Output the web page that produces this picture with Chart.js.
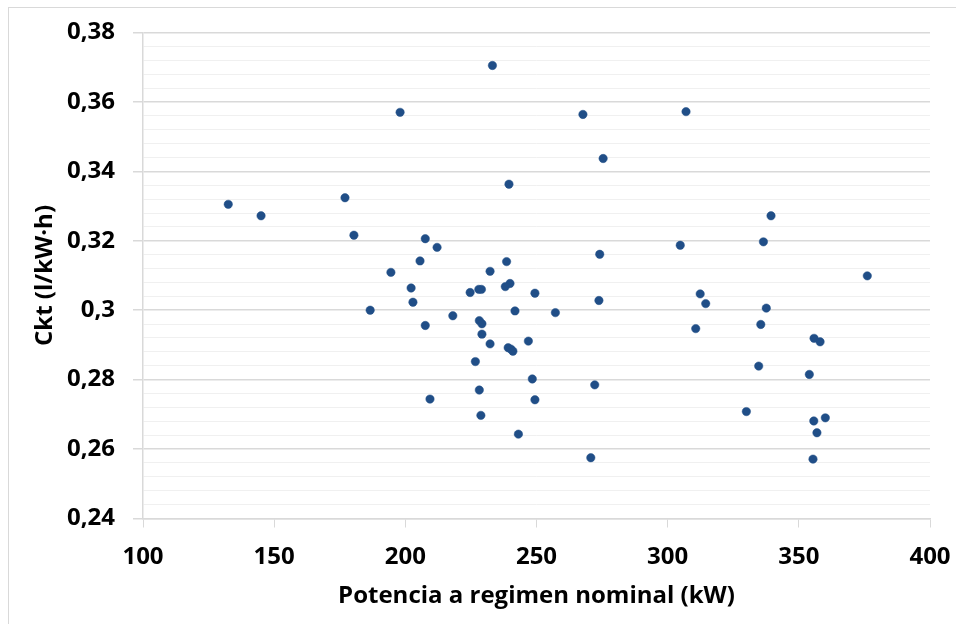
<!DOCTYPE html>
<html>
<head>
<meta charset="utf-8">
<script src="https://cdn.jsdelivr.net/npm/chart.js@4/dist/chart.umd.min.js"></script>
<style>
html,body{margin:0;padding:0;background:#fff;}
#wrap{width:956px;height:624px;position:relative;}
</style>
</head>
<body>
<div id="wrap"><canvas id="c" width="956" height="624"></canvas></div>
<script>
// Potencia a regimen nominal (kW)
const powerKW = [
  132.5, 145.0, 177.0, 180.4, 198.0, 207.6, 212.1, 205.6, 194.5, 202.2,
  202.9, 186.6, 207.6, 209.4, 233.2, 267.7, 307.0, 275.4, 239.5, 232.3,
  238.6, 274.1, 304.8, 339.4, 336.5, 376.1, 239.9, 238.1, 224.7, 228.0,
  229.0, 249.4, 273.8, 312.4, 314.5, 241.8, 257.2, 218.1, 228.2, 229.2,
  310.7, 229.2, 232.3, 239.2, 240.2, 241.0, 246.9, 226.7, 248.4, 272.2,
  228.2, 249.4, 228.8, 243.1, 270.7, 337.6, 335.5, 355.8, 358.1, 334.7,
  354.0, 330.0, 360.1, 355.7, 356.9, 355.4
];
// Ckt (l/kW·h)
const cktValues = [
  0.3305, 0.3272, 0.3324, 0.3216, 0.3570, 0.3206, 0.3181, 0.3142, 0.3109, 0.3064,
  0.3023, 0.3000, 0.2956, 0.2744, 0.3705, 0.3564, 0.3572, 0.3437, 0.3363, 0.3112,
  0.3140, 0.3161, 0.3187, 0.3272, 0.3197, 0.3099, 0.3077, 0.3068, 0.3051, 0.3060,
  0.3060, 0.3049, 0.3028, 0.3047, 0.3019, 0.2998, 0.2993, 0.2984, 0.2970, 0.2961,
  0.2947, 0.2931, 0.2903, 0.2892, 0.2888, 0.2882, 0.2911, 0.2852, 0.2802, 0.2785,
  0.2770, 0.2742, 0.2697, 0.2643, 0.2575, 0.3006, 0.2959, 0.2919, 0.2909, 0.2839,
  0.2815, 0.2708, 0.2690, 0.2681, 0.2647, 0.2571
];
const xTickValues = [100, 150, 200, 250, 300, 350, 400];
const yMajorTicks = [0.24, 0.26, 0.28, 0.30, 0.32, 0.34, 0.36, 0.38];
const xTitle = 'Potencia a regimen nominal (kW)';
const yTitle = 'Ckt (l/kW·h)';

const points = powerKW.map((x, i) => ({x: x, y: cktValues[i]}));
const isMajor = v => yMajorTicks.some(m => Math.abs(m - v) < 1e-6);
const fmt = v => String(Number(v.toFixed(2))).replace('.', ',');
const FONT = "'Open Sans', 'Liberation Sans', sans-serif";

const frame = {
  id: 'frame',
  beforeDraw(chart) {
    const ctx = chart.ctx;
    ctx.save();
    ctx.fillStyle = '#ffffff';
    ctx.fillRect(0, 0, chart.width, chart.height);
    ctx.strokeStyle = '#d9d9d9';
    ctx.lineWidth = 1;
    ctx.strokeRect(8.5, 7.5, 980, 660);
    ctx.restore();
  }
};

new Chart(document.getElementById('c'), {
  type: 'scatter',
  data: {
    datasets: [{
      data: points,
      backgroundColor: '#204e87',
      borderColor: '#204e87',
      borderWidth: 0.5,
      pointRadius: 4.2,
      pointHoverRadius: 4.2
    }]
  },
  options: {
    responsive: false,
    animation: false,
    events: [],
    layout: {padding: {left: 0, top: 32.5, right: 26, bottom: 0}},
    plugins: {legend: {display: false}, tooltip: {enabled: false}},
    scales: {
      x: {
        type: 'linear',
        min: 100, max: 400,
        afterFit(s) { s.height = 105.5; s.paddingLeft = 0; s.paddingRight = 0; },
        afterBuildTicks(s) { s.ticks = xTickValues.map(v => ({value: v})); },
        ticks: {
          color: '#000',
          font: {family: FONT, size: 24, weight: 'bold'},
          padding: 15,
          maxRotation: 0,
          autoSkip: false,
          callback: v => String(v)
        },
        grid: {drawOnChartArea: false, color: '#d9d9d9', tickLength: 9, lineWidth: 1},
        border: {color: '#d9d9d9', width: 1.5},
        title: {
          display: true, text: xTitle, color: '#000',
          font: {family: FONT, size: 24, weight: 'bold'},
          padding: {top: 0, bottom: 13}
        }
      },
      y: {
        type: 'linear',
        min: 0.24, max: 0.38,
        afterFit(s) { s.width = 143; },
        ticks: {
          stepSize: 0.004,
          autoSkip: false,
          color: '#000',
          font: {family: FONT, size: 24, weight: 'bold'},
          padding: 18,
          callback: v => isMajor(v) ? fmt(v) : ''
        },
        grid: {
          color: c => isMajor(c.tick.value) ? '#d9d9d9' : '#f0f0f0',
          tickColor: c => isMajor(c.tick.value) ? '#d9d9d9' : 'rgba(0,0,0,0)',
          lineWidth: c => isMajor(c.tick.value) ? 1.5 : 1,
          tickLength: 10
        },
        border: {color: '#d9d9d9', width: 1.5},
        title: {
          display: true, text: yTitle, color: '#000',
          font: {family: FONT, size: 24, weight: 'bold'},
          padding: {top: 31, bottom: 0}
        }
      }
    }
  },
  plugins: [frame]
});
</script>
</body>
</html>
